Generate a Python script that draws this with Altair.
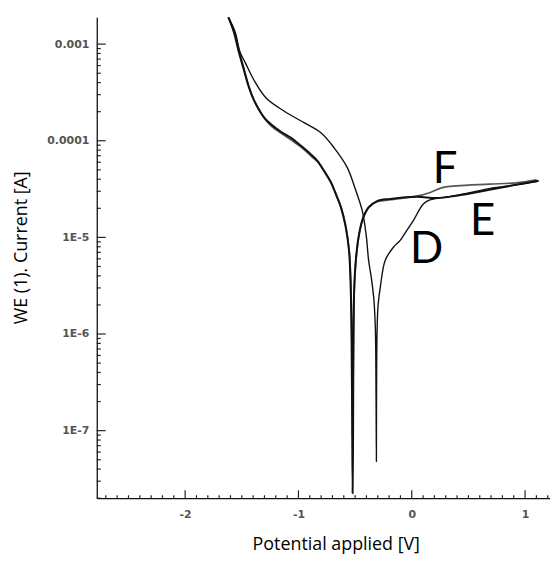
import altair as alt
import pandas as pd

# ---- data (potential in V, current in A) ----
d_v = [-1.619, -1.558, -1.517, -1.473, -1.385, -1.283, -1.122, -0.947, -0.802, -0.685,
       -0.569, -0.499, -0.437, -0.402, -0.381, -0.354, -0.334, -0.321, -0.315, -0.312,
       -0.311, -0.306, -0.297, -0.277, -0.234, -0.160, -0.102, -0.044, 0.015, 0.102,
       0.160, 0.394, 0.685, 0.919, 1.111]
d_i = [1.90e-3, 1.33e-3, 8.32e-4, 6.56e-4, 4.09e-4, 2.75e-4, 2.01e-4, 1.53e-4, 1.21e-4, 8.45e-5,
       5.27e-5, 3.18e-5, 1.89e-5, 1.05e-5, 5.81e-6, 3.62e-6, 2.25e-6, 1.11e-6, 2.12e-7, 4.79e-8,
       2.12e-7, 1.11e-6, 2.00e-6, 3.09e-6, 5.81e-6, 7.96e-6, 9.31e-6, 1.18e-5, 1.50e-5, 2.22e-5,
       2.44e-5, 2.72e-5, 3.20e-5, 3.50e-5, 3.80e-5]

e_v = [-1.619, -1.570, -1.527, -1.487, -1.444, -1.400, -1.356, -1.304, -1.240, -1.155,
       -1.065, -0.980, -0.890, -0.831, -0.773, -0.715, -0.674, -0.627, -0.584, -0.554,
       -0.541, -0.532, -0.527, -0.522, -0.518, -0.514, -0.507, -0.490, -0.464, -0.429,
       -0.379, -0.306, -0.190, 0.044, 0.219, 0.394, 0.685, 0.919, 1.120]
e_i = [1.90e-3, 1.33e-3, 8.32e-4, 5.69e-4, 3.78e-4, 2.74e-4, 2.18e-4, 1.75e-4, 1.47e-4, 1.24e-4,
       1.07e-4, 8.91e-5, 7.23e-5, 6.17e-5, 4.87e-5, 3.76e-5, 2.90e-5, 2.08e-5, 1.30e-5, 7.36e-6,
       3.62e-6, 1.11e-6, 2.12e-7, 2.25e-8, 8.26e-8, 1.11e-6, 3.22e-6, 6.53e-6, 1.10e-5, 1.60e-5,
       2.05e-5, 2.37e-5, 2.50e-5, 2.64e-5, 2.55e-5, 2.70e-5, 3.11e-5, 3.50e-5, 3.85e-5]

f_v = [-1.619, -1.566, -1.518, -1.478, -1.435, -1.391, -1.347, -1.295, -1.234, -1.146,
       -1.059, -0.971, -0.884, -0.822, -0.766, -0.709, -0.670, -0.621, -0.579, -0.551,
       -0.538, -0.530, -0.525, -0.522, -0.518, -0.513, -0.505, -0.487, -0.461, -0.424,
       -0.376, -0.306, -0.190, 0.044, 0.157, 0.277, 0.394, 0.685, 0.919, 1.102]
f_i = [1.90e-3, 1.33e-3, 8.11e-4, 5.43e-4, 3.59e-4, 2.61e-4, 2.06e-4, 1.67e-4, 1.40e-4, 1.18e-4,
       1.01e-4, 8.50e-5, 6.87e-5, 5.89e-5, 4.65e-5, 3.58e-5, 2.77e-5, 1.99e-5, 1.24e-5, 7.02e-6,
       3.45e-6, 1.11e-6, 2.69e-7, 8.85e-8, 2.69e-7, 1.11e-6, 3.30e-6, 6.68e-6, 1.12e-5, 1.64e-5,
       2.08e-5, 2.34e-5, 2.45e-5, 2.67e-5, 2.90e-5, 3.29e-5, 3.42e-5, 3.56e-5, 3.67e-5, 3.94e-5]

label_txt = ["D", "E", "F"]
label_v = [0.130, 0.625, 0.295]
label_i = [7.30e-6, 1.45e-5, 4.95e-5]

x_major = [-2, -1, 0, 1]
x_minor = [round(-2.7 + 0.1 * j, 1) for j in range(40) if round(-2.7 + 0.1 * j, 1) not in x_major]
y_major = [1e-7, 1e-6, 1e-5, 1e-4, 1e-3]
y_labels = ["1E-7", "1E-6", "1E-5", "0.0001", "0.001"]
y_minor = [m * 10.0 ** e for e in range(-8, -2) for m in range(2, 10) if 2e-8 <= m * 10.0 ** e <= 1.9e-3]

W, H = 457, 485

def curve_df(vs, cs):
    return pd.DataFrame({"v": vs, "i": cs, "k": list(range(len(vs)))})

x_scale = alt.Scale(domain=[-2.78, 1.22], nice=False, zero=False)
y_scale = alt.Scale(type="log", domain=[2e-8, 1.9e-3], nice=False)

label_expr_y = "[" + ",".join("'%s'" % s for s in y_labels) + "][round(log(datum.value)/LN10)+7]"

x_axis = alt.Axis(values=x_major, labelExpr="datum.value + ''", ticks=False, grid=False,
                  domainColor="#111", domainWidth=1.3,
                  labelFont="DejaVu Sans", labelFontSize=11, labelFontWeight="bold",
                  labelColor="#555", labelPadding=10,
                  title="Potential applied [V]", titleFont="Open Sans", titleFontSize=18,
                  titleFontWeight="normal", titleColor="#000",
                  titleX=241, titleY=47, titleBaseline="middle", titleAlign="center")
y_axis = alt.Axis(values=y_major, labelExpr=label_expr_y, ticks=False, grid=False,
                  domainColor="#111", domainWidth=1.3,
                  labelFont="DejaVu Sans", labelFontSize=11, labelFontWeight="bold",
                  labelColor="#555", labelPadding=8,
                  title="WE (1). Current [A]", titleFont="Open Sans", titleFontSize=18,
                  titleFontWeight="normal", titleColor="#000", titleAngle=270,
                  titleX=-76, titleY=232, titleBaseline="middle", titleAlign="center")

X = lambda f="v:Q": alt.X(f, scale=x_scale, axis=x_axis)
Y = lambda f="i:Q": alt.Y(f, scale=y_scale, axis=y_axis)

def line_layer(vs, cs, color, width):
    return alt.Chart(curve_df(vs, cs)).mark_line(
        color=color, strokeWidth=width, clip=True, interpolate="catmull-rom").encode(
        x=X(), y=Y(), order="k:Q")

f_line = line_layer(f_v, f_i, "#555555", 1.7)
e_line = line_layer(e_v, e_i, "#111111", 2.0)
d_line = line_layer(d_v, d_i, "#111111", 1.4)

xt_major = alt.Chart(pd.DataFrame({"v": x_major})).mark_rule(color="#222", strokeWidth=1.2).encode(
    x=X(), y=alt.value(H), y2=alt.value(H - 8))
xt_minor = alt.Chart(pd.DataFrame({"v": x_minor})).mark_rule(color="#222", strokeWidth=1.2).encode(
    x=X(), y=alt.value(H), y2=alt.value(H - 3))
yt_major = alt.Chart(pd.DataFrame({"i": y_major})).mark_rule(color="#222", strokeWidth=1.2).encode(
    y=Y(), x=alt.value(0), x2=alt.value(9))
yt_minor = alt.Chart(pd.DataFrame({"i": y_minor})).mark_rule(color="#222", strokeWidth=1.2).encode(
    y=Y(), x=alt.value(0), x2=alt.value(4))

labels = alt.Chart(pd.DataFrame({"t": label_txt, "v": label_v, "i": label_i})).mark_text(
    font="Lato", fontSize=44, align="center", baseline="middle", color="#000").encode(
    x=X(), y=Y(), text="t:N")

chart = alt.layer(f_line, e_line, d_line, xt_major, xt_minor, yt_major, yt_minor, labels).properties(
    width=W, height=H,
    padding={"left": 89.5, "top": 7, "right": 0, "bottom": 55},
    autosize=alt.AutoSizeParams(type="none"),
).configure(background="white").configure_view(stroke=None)

chart.save("out.html", embed_options={"renderer": "svg", "actions": False})
